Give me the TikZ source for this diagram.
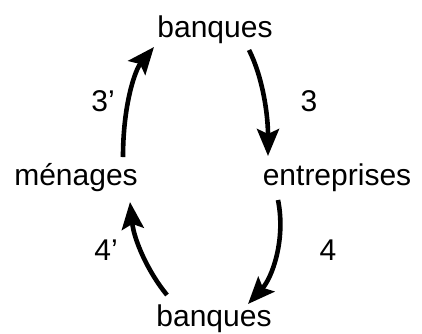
\documentclass[tikz,border=0pt]{standalone}
\usepackage{fontspec}
\setmainfont{Liberation Sans}
\usetikzlibrary{arrows.meta}
\begin{document}
\begin{tikzpicture}[x=1pt,y=-1pt,
  lbl/.style={anchor=base,inner sep=0pt,font=\fontsize{30}{36}\selectfont},
  flow/.style={line width=4.6pt,-{Stealth[length=27pt,width=22pt,inset=5pt]}}]
\useasboundingbox (0,0) rectangle (422,333);
\node[lbl] (bt) at (215,37) {banques};
\node[lbl] (men) at (76,185) {ménages};
\node[lbl] (ent) at (337,185) {entreprises};
\node[lbl] (bb) at (214,326) {banques};
\node[lbl] (l3p) at (103,111) {3'};
\node[lbl] (l3) at (309,111) {3};
\node[lbl] (l4p) at (106,260) {4'};
\node[lbl] (l4) at (328,260) {4};
\coordinate (a1s) at (123,157);
\coordinate (a1e) at (154,47);
\coordinate (a2s) at (249,50);
\coordinate (a2e) at (268,156);
\coordinate (a3s) at (278,200);
\coordinate (a3e) at (248,304);
\coordinate (a4s) at (167,295);
\coordinate (a4e) at (130,202);
\draw[flow] (a1s) .. controls (123,105) and (135,70) .. (a1e);
\draw[flow] (a2s) .. controls (263,78) and (268,115) .. (a2e);
\draw[flow] (a3s) .. controls (286,240) and (272,278) .. (a3e);
\draw[flow] (a4s) .. controls (148,272) and (134,240) .. (a4e);
\end{tikzpicture}
\end{document}
